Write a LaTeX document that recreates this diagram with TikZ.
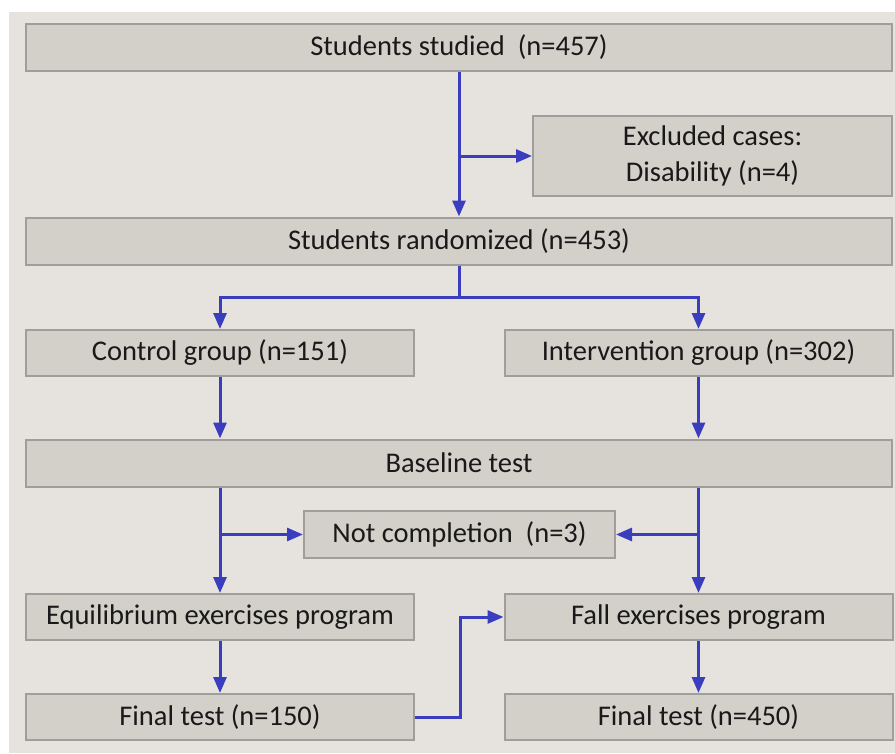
\documentclass[tikz,border=0pt]{standalone}
\usepackage{fontspec}
\setmainfont{Carlito}
\usetikzlibrary{arrows.meta}

\definecolor{bgcol}{RGB}{230,227,223}
\definecolor{boxfill}{RGB}{211,208,202}
\definecolor{boxdraw}{RGB}{160,158,154}
\definecolor{flowblue}{RGB}{58,62,190}

\begin{document}
\begin{tikzpicture}[x=1pt, y=-1pt,
  box/.style={draw=boxdraw, line width=2pt, fill=boxfill, inner sep=0pt,
    align=center, text=black!90, font=\fontsize{28.5}{36}\selectfont},
  wide/.style={box, minimum width=866pt, minimum height=47pt},
  half/.style={box, minimum width=388pt, minimum height=46pt},
  flow/.style={draw=flowblue, line width=3pt, -{Triangle[length=16pt,width=13pt]}}
  ]
  \useasboundingbox (0,0) rectangle (895,753);
  \fill[bgcol] (9,12) rectangle (895,753);

  % boxes
  \node[wide] (studied) at (459,47.5) {Students studied\ \ (n=457)};
  \node[box, minimum width=359pt, minimum height=80pt] (excluded) at (712.5,156) {Excluded cases:\\Disability (n=4)};
  \node[wide] (randomized) at (459,241) {Students randomized (n=453)};
  \node[half] (control) at (220,353) {Control group (n=151)};
  \node[half] (intervention) at (698.5,353) {Intervention group (n=302)};
  \node[wide] (baseline) at (459,463) {Baseline test};
  \node[box, minimum width=311pt, minimum height=47pt] (notcomp) at (459.5,534.5) {Not completion\ \ (n=3)};
  \node[half] (equil) at (220,617) {Equilibrium exercises program};
  \node[half] (fall) at (698.5,617) {Fall exercises program};
  \node[half] (finalA) at (220,717) {Final test (n=150)};
  \node[half] (finalB) at (698.5,717) {Final test (n=450)};

  % connectors
  \draw[flow] (studied) -- (randomized);
  \draw[flow] (studied.south |- excluded) -- (excluded.west);
  \draw[flow] (randomized.south) -- ++(0,32) -| (control);
  \draw[flow] (randomized.south) -- ++(0,32) -| (intervention);
  \draw[flow] (control) -- (control |- baseline.north);
  \draw[flow] (intervention) -- (intervention |- baseline.north);
  \draw[flow] (baseline.south -| equil) -- (equil);
  \draw[flow] (baseline.south -| fall) -- (fall);
  \draw[flow] (equil |- notcomp) -- (notcomp.west);
  \draw[flow] (fall |- notcomp) -- (notcomp.east);
  \draw[flow] (equil) -- (finalA);
  \draw[flow] (fall) -- (finalB);
  \draw[flow] (finalA.east) -- ++(45,0) |- (fall.west);
\end{tikzpicture}
\end{document}
